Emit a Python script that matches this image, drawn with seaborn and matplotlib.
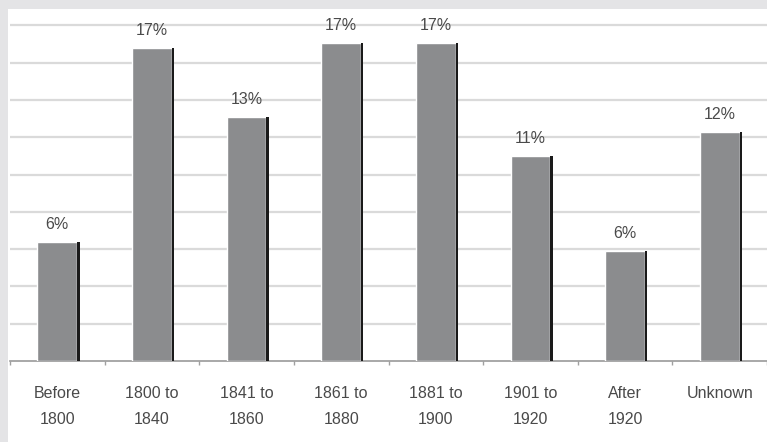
import matplotlib
matplotlib.use("Agg")
import matplotlib.pyplot as plt
import seaborn as sns
import pandas as pd
from matplotlib.patches import Rectangle

# datos
categorias = ["Before\n1800", "1800 to\n1840", "1841 to\n1860", "1861 to\n1880",
              "1881 to\n1900", "1901 to\n1920", "After\n1920", "Unknown"]
porcentajes = [6.4, 16.8, 13.1, 17.05, 17.05, 11.0, 5.9, 12.3]
etiquetas = ["6%", "17%", "13%", "17%", "17%", "11%", "6%", "12%"]
lineas_grid = [2, 4, 6, 8, 10, 12, 14, 16, 18]

df = pd.DataFrame({"periodo": categorias, "pct": porcentajes})

sns.set_style("white")
plt.rcParams['font.family'] = ['Liberation Sans', 'DejaVu Sans']

W, H = 767, 442
fig = plt.figure(figsize=(W / 100, H / 100), dpi=100, facecolor="#e4e4e6")
# fondo blanco del área de la gráfica
fig.patches.append(Rectangle((8 / W, 0), 1, 1 - 9 / H, transform=fig.transFigure,
                             facecolor="white", edgecolor="none", zorder=-5))

ax = fig.add_axes([10 / W, 81 / H, (W - 10) / W, 352 / H])
ax.set_facecolor("white")
ax.set_zorder(2)

sns.barplot(data=df, x="periodo", y="pct", color="#8b8c8e", width=0.42,
            saturation=1, ax=ax, zorder=3)

# sombra oscura a la derecha de cada barra
for p in list(ax.patches):
    ax.add_patch(Rectangle((p.get_x() + p.get_width(), 0), 0.025, p.get_height(),
                           facecolor="#1a1a1a", edgecolor="none", zorder=3))

ax.bar_label(ax.containers[0], labels=etiquetas, padding=7, fontsize=11.5, color="#4a4a4a")

for g in lineas_grid:
    ax.axhline(g, color="#dadada", lw=1.6, zorder=1)

ax.set_xlim(-0.48, -0.48 + (W - 10) / 95)
ax.set_ylim(0, 352 / 37.3 * 2)
ax.set_yticks([])
ax.set_xlabel("")
ax.set_ylabel("")
for s in ["top", "right", "left"]:
    ax.spines[s].set_visible(False)
ax.spines["bottom"].set_color("#9a9a9a")
ax.spines["bottom"].set_linewidth(1.2)

ax.set_xticks(range(len(categorias)))
ax.set_xticklabels(categorias, fontsize=11.5, color="#4a4a4a", linespacing=1.95)
ax.tick_params(axis="x", which="major", length=0, pad=18)
ax.set_xticks([i - 0.5 for i in range(len(categorias) + 1)], minor=True)
ax.tick_params(axis="x", which="minor", bottom=True, length=3, color="#a0a0a0", width=1)

fig.savefig("out.png", dpi=100, facecolor=fig.get_facecolor())
